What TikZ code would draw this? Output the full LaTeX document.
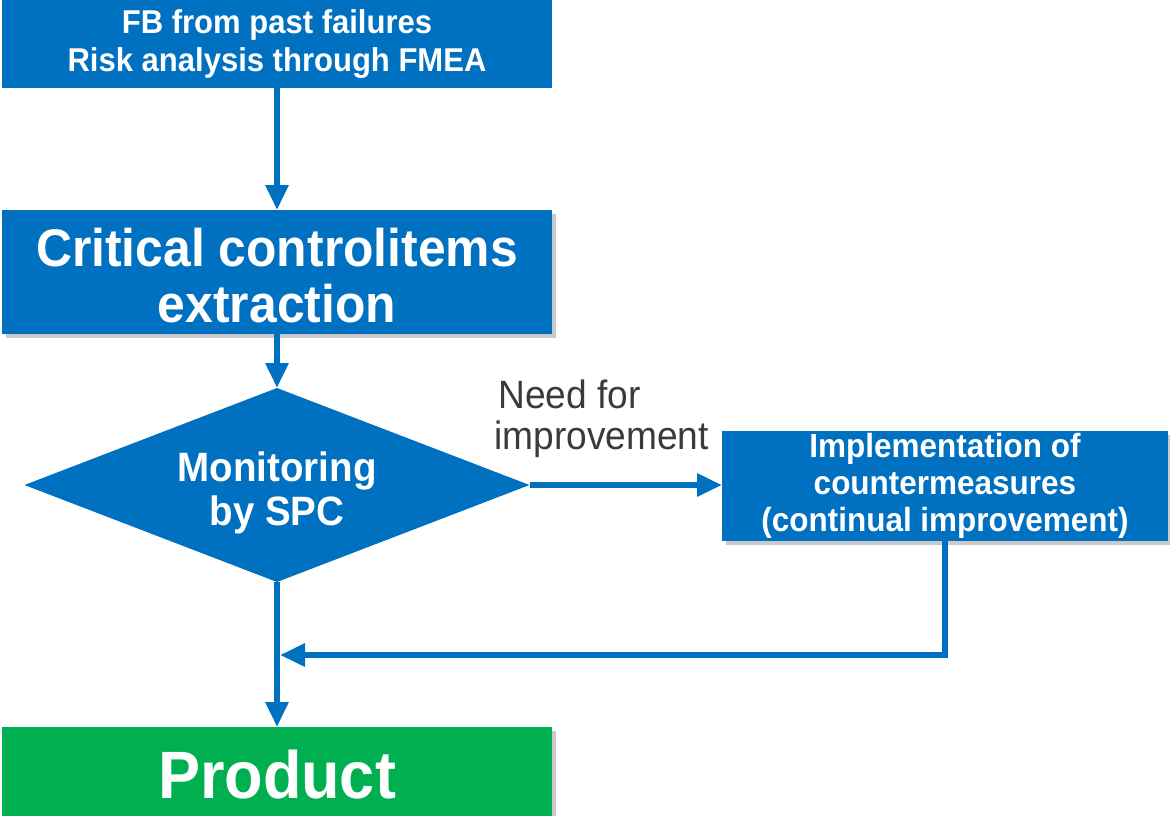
\documentclass[tikz,border=0pt]{standalone}
\usepackage{fontspec}
\setmainfont{Liberation Sans}[FakeStretch=0.94]
\usepackage{tikz}
\usetikzlibrary{arrows.meta}
\usetikzlibrary{shapes.geometric}
\usetikzlibrary{shadows}
\usetikzlibrary{calc}

\definecolor{spcblue}{HTML}{0070C0}
\definecolor{spcgreen}{HTML}{00B050}
\definecolor{spcgray}{HTML}{3A3A3A}

\newcommand{\fsz}[2]{\fontsize{#1}{#2}\selectfont}

\tikzset{
  blockbox/.style={rectangle,fill=#1,text=white,align=center,inner sep=0pt,outer sep=0pt},
  blockbox/.default=spcblue,
  shadowed/.style={drop shadow={shadow xshift=4pt,shadow yshift=-4pt,fill=black!35,opacity=.6}},
  flow/.style={draw=spcblue,line width=6pt,->}
}

\begin{document}
\begin{tikzpicture}[x=1pt,y=-1pt,>={Triangle[length=25pt,width=22pt]}]
\useasboundingbox (0,0) rectangle (1170,815);
\node [blockbox,minimum width=550pt,minimum height=88pt,font=\bfseries\fsz{33}{38}] (fb) at (277,44)
  {FB from past failures\\Risk analysis through FMEA};
\node [blockbox,shadowed,minimum width=550pt,minimum height=124pt,font=\bfseries\fsz{53}{56}] (crit) at (277,272)
  {\rule{0pt}{46pt}Critical controlitems\\extraction};
\node [blockbox,diamond,aspect=2.6,minimum width=505pt,minimum height=194pt,font=\bfseries\fsz{41}{44}] (spc) at (277,485)
  {\rule{0pt}{46pt}Monitoring\\by SPC};
\node [blockbox,shadowed,minimum width=446pt,minimum height=110pt,font=\bfseries\fsz{33.5}{37}] (impl) at (945,486)
  {Implementation of\\countermeasures\\(continual improvement)};
\node [blockbox=spcgreen,shadowed,minimum width=550pt,minimum height=96pt,font=\bfseries\fsz{67}{70}] (prod) at (277,775)
  {Product};
\node [anchor=west,align=left,text=spcgray,inner sep=0pt,font=\fsz{39.5}{41}] (need) at (494,419)
  {\hspace{4pt}Need for\\improvement};
\coordinate (merge) at (280,655);
\draw [flow] (fb.south) -- (crit.north);
\draw [flow] (crit.south) -- (spc.north);
\draw [flow] (spc.east) -- (spc.east -| impl.west);
\draw [flow] (spc.south) -- (prod.north);
\draw [flow] (impl.south) |- (merge);
\end{tikzpicture}
\end{document}
